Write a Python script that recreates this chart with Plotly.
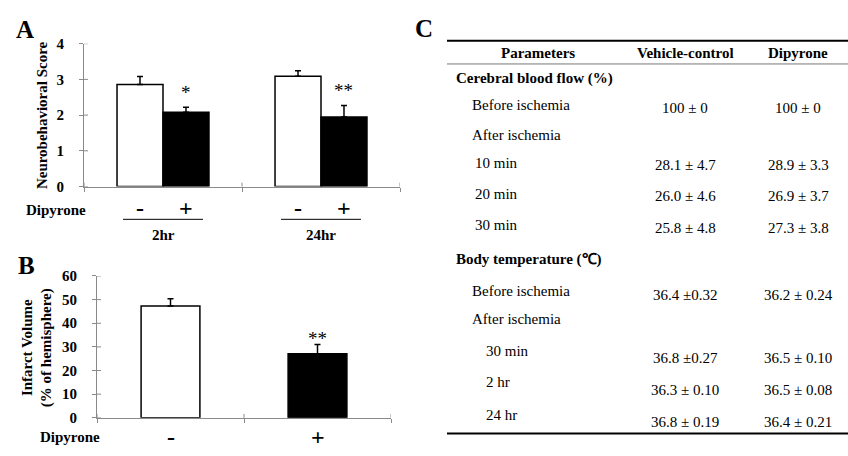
import plotly.graph_objects as go

# ---------------- data ----------------
time_points = ["2hr", "24hr"]
vehicle_score = [2.86, 3.09]
vehicle_score_se = [0.22, 0.15]
dipyrone_score = [2.08, 1.95]
dipyrone_score_se = [0.14, 0.32]
score_sig = ["*", "**"]
score_ticks = [0, 1, 2, 3, 4]

infarct_groups = ["-", "+"]
infarct_volume = [47.3, 27.1]
infarct_se = [3.1, 3.9]
infarct_sig = ["", "**"]
infarct_ticks = [0, 10, 20, 30, 40, 50, 60]

table_header = ["Parameters", "Vehicle-control", "Dipyrone"]
table_params = ["Cerebral blood flow (%)", "Before ischemia", "After ischemia",
                "10 min", "20 min", "30 min",
                "Body temperature (\u2103)", "Before ischemia", "After ischemia",
                "30 min", "2 hr", "24 hr"]
table_vehicle = ["", "100 \u00b1 0", "", "28.1 \u00b1 4.7", "26.0 \u00b1 4.6", "25.8 \u00b1 4.8",
                 "", "36.4 \u00b10.32", "", "36.8 \u00b10.27", "36.3 \u00b1 0.10", "36.8 \u00b1 0.19"]
table_dipyrone = ["", "100 \u00b1 0", "", "28.9 \u00b1 3.3", "26.9 \u00b1 3.7", "27.3 \u00b1 3.8",
                  "", "36.2 \u00b1 0.24", "", "36.5 \u00b1 0.10", "36.5 \u00b1 0.08", "36.4 \u00b1 0.21"]

# ---------------- layout helpers ----------------
W, H = 848, 456
SERIF = "Liberation Serif, Times New Roman, serif"
AXC = "#8a8a8a"

def px(x):
    return x / W

def py(y):
    return 1 - y / H

fig = go.Figure()

BW = 0.291  # bar width in category units (panel A)

fig.add_trace(go.Bar(
    x=time_points, y=vehicle_score, width=BW, offset=-BW,
    marker=dict(color="white", line=dict(color="black", width=1.5)),
    error_y=dict(type="data", symmetric=False, array=vehicle_score_se, arrayminus=[0, 0],
                 color="black", thickness=1.5, width=3),
    xaxis="x", yaxis="y", showlegend=False, hoverinfo="skip"))
fig.add_trace(go.Bar(
    x=time_points, y=dipyrone_score, width=BW, offset=0,
    marker=dict(color="black", line=dict(color="black", width=1.5)),
    error_y=dict(type="data", symmetric=False, array=dipyrone_score_se, arrayminus=[0, 0],
                 color="black", thickness=1.5, width=3),
    xaxis="x", yaxis="y", showlegend=False, hoverinfo="skip"))

fig.add_trace(go.Bar(
    x=infarct_groups, y=infarct_volume, width=0.4, offset=-0.2,
    marker=dict(color=["white", "black"], line=dict(color="black", width=1.5)),
    error_y=dict(type="data", symmetric=False, array=infarct_se, arrayminus=[0, 0],
                 color="black", thickness=1.5, width=3),
    xaxis="x2", yaxis="y2", showlegend=False, hoverinfo="skip"))

tickfont = dict(family=SERIF, size=15, color="black", weight="bold")

A_X0, A_X1, A_Y0, A_Y1 = 84, 400, 185, 37
B_X0, B_X1, B_Y0, B_Y1 = 97, 391, 424.7, 277.7

fig.update_layout(
    width=W, height=H, margin=dict(l=0, r=0, t=0, b=0),
    paper_bgcolor="white", plot_bgcolor="white",
    font=dict(family=SERIF, color="black"),
    xaxis=dict(domain=[px(A_X0), px(A_X1)], type="category", range=[-0.5, 1.5],
               showline=True, linecolor=AXC, linewidth=1, tickson="boundaries",
               ticks="outside", ticklen=4, tickcolor=AXC, showticklabels=False,
               showgrid=False, zeroline=False, anchor="y", fixedrange=True),
    yaxis=dict(domain=[py(A_Y0), py(A_Y1)], range=[0, 4], tickvals=score_ticks,
               showline=True, linecolor=AXC, linewidth=1, ticks="outside", ticklen=4,
               tickcolor=AXC, tickfont=tickfont, ticklabelstandoff=12,
               showgrid=False, zeroline=False, anchor="x", fixedrange=True),
    xaxis2=dict(domain=[px(B_X0), px(B_X1)], type="category", range=[-0.5, 1.5],
                showline=True, linecolor=AXC, linewidth=1, tickson="boundaries",
                ticks="outside", ticklen=4, tickcolor=AXC, showticklabels=False,
                showgrid=False, zeroline=False, anchor="y2", fixedrange=True),
    yaxis2=dict(domain=[py(B_Y0), py(B_Y1)], range=[0, 60], tickvals=infarct_ticks,
                showline=True, linecolor=AXC, linewidth=1, ticks="outside", ticklen=4,
                tickcolor=AXC, tickfont=tickfont, ticklabelstandoff=12,
                showgrid=False, zeroline=False, anchor="x2", fixedrange=True),
)

ann = []
shapes = []

# inner halves of the crossing tick marks
TL = 4
for v in score_ticks:
    shapes.append(dict(type="line", xref="x domain", yref="y", x0=0, x1=TL / (A_X1 - A_X0),
                       y0=v, y1=v, line=dict(color=AXC, width=1)))
for v in infarct_ticks:
    shapes.append(dict(type="line", xref="x2 domain", yref="y2", x0=0, x1=TL / (B_X1 - B_X0),
                       y0=v, y1=v, line=dict(color=AXC, width=1)))
for b in [-0.5, 0.5, 1.5]:
    shapes.append(dict(type="line", xref="x", yref="y domain", x0=b, x1=b,
                       y0=0, y1=TL / (A_Y0 - A_Y1), line=dict(color=AXC, width=1)))
    shapes.append(dict(type="line", xref="x2", yref="y2 domain", x0=b, x1=b,
                       y0=0, y1=TL / (B_Y0 - B_Y1), line=dict(color=AXC, width=1)))

def text(x, y, s, size=14, bold=False, xanchor="center", xref="paper", yref="paper", angle=0):
    ann.append(dict(x=x, y=y, xref=xref, yref=yref, text=s, showarrow=False,
                    xanchor=xanchor, yanchor="middle", textangle=angle,
                    font=dict(family=SERIF, size=size, color="black",
                              weight="bold" if bold else "normal")))

# panel labels
text(px(25), py(22), "A", size=25, bold=True)
text(px(26), py(267), "B", size=25, bold=True)
text(px(424), py(21), "C", size=25, bold=True)

# Panel A annotations
text(px(42), py(111), "Neurobehavioral Score", size=15, bold=True, angle=-90)
text(px(56), py(209), "Dipyrone", size=15, bold=True)
for i, tp in enumerate(time_points):
    text(i - BW / 2, py(207), "-", size=24, bold=True, xref="x")
    text(i + BW / 2, py(207), "+", size=24, bold=True, xref="x")
    shapes.append(dict(type="line", xref="x", yref="paper", x0=i - 0.253, x1=i + 0.253,
                       y0=py(219), y1=py(219), line=dict(color="black", width=1)))
    text(i, py(235), tp, size=15, bold=True, xref="x")
    ann_y = dipyrone_score[i] + dipyrone_score_se[i] + 0.42
    text(i + BW / 2, ann_y, score_sig[i], size=19, xref="x", yref="y")

# Panel B annotations
text(px(37.5), py(352), "Infarct Volume<br>(% of hemisphere)", size=15, bold=True, angle=-90)
text(px(70), py(445), "Dipyrone", size=15, bold=True)
for i, g in enumerate(infarct_groups):
    text(i, py(445), g, size=24, bold=True, xref="x2")
    if infarct_sig[i]:
        text(i, infarct_volume[i] + infarct_se[i] + 2.5, infarct_sig[i], size=19,
             xref="x2", yref="y2")

# Panel C table
TX0, TX1 = 447, 848
shapes.append(dict(type="line", xref="paper", yref="paper", x0=px(TX0), x1=px(TX1),
                   y0=py(34), y1=py(34), line=dict(color="black", width=2)))
shapes.append(dict(type="line", xref="paper", yref="paper", x0=px(TX0), x1=px(TX1),
                   y0=py(58), y1=py(58), line=dict(color="#777777", width=1)))
shapes.append(dict(type="line", xref="paper", yref="paper", x0=px(TX0), x1=px(TX1),
                   y0=py(441), y1=py(441), line=dict(color="black", width=2)))

col_x = [538, 685, 798]
for cx, h in zip(col_x, table_header):
    text(px(cx), py(47), h, size=15, bold=True)

label_y = [73, 101, 132, 161, 193, 225, 261, 293, 322, 355, 388, 422]
value_y = [73, 104, 132, 163, 195, 228, 261, 297, 322, 363, 396, 429]
label_x = [454, 470, 470, 473, 473, 473, 454, 470, 470, 484, 484, 484]
label_bold = [True, False, False, False, False, False, True, False, False, False, False, False]

for i, lab in enumerate(table_params):
    text(px(label_x[i]), py(label_y[i]), lab, size=15, bold=label_bold[i], xanchor="left")
    if table_vehicle[i]:
        text(px(col_x[1]), py(value_y[i]), table_vehicle[i], size=15)
    if table_dipyrone[i]:
        text(px(col_x[2]), py(value_y[i]), table_dipyrone[i], size=15)

fig.update_layout(annotations=ann, shapes=shapes)
fig.write_html("out.html", config={"displayModeBar": False},
               post_script="document.body.style.margin='0';")
